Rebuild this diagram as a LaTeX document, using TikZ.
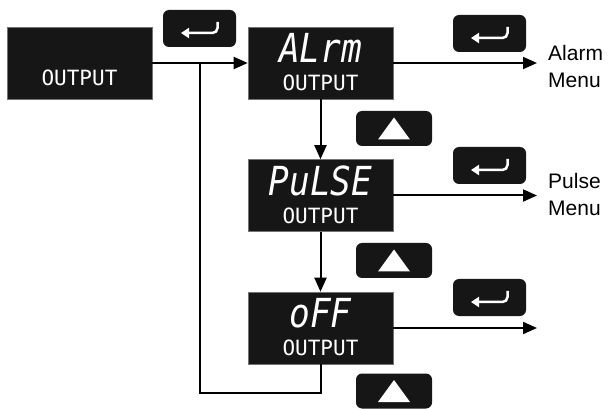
\documentclass[tikz,border=0pt]{standalone}
\usepackage{fontspec}
\setmainfont{Liberation Sans}
\newfontfamily\segfont[FakeStretch=0.86]{DejaVu Sans Mono}
\newfontfamily\segsmall{DejaVu Sans Mono}
\usetikzlibrary{positioning,arrows.meta}
\definecolor{panel}{HTML}{161616}

\begin{document}
\begin{tikzpicture}[x=1pt,y=-1pt]
\tikzstyle{display}=[fill=panel,draw=black!55,line width=0.6pt,minimum width=145pt,minimum height=72pt,inner sep=0pt]
\tikzstyle{keybox}=[fill=panel,rounded corners=6pt,minimum width=73pt,minimum height=37pt,inner sep=0pt]
\tikzstyle{upbox}=[keybox,minimum width=76pt,minimum height=35pt]
\tikzstyle{flow}=[line width=2pt,-{Triangle[length=14pt,width=12pt]}]
\tikzstyle{seg}=[text=white,inner sep=0pt,font=\segfont\itshape\fontsize{40}{40}\selectfont]
\tikzstyle{sub}=[text=white,inner sep=0pt,font=\segsmall\fontsize{21}{21}\selectfont]
\tikzstyle{menu}=[anchor=west,align=left,inner sep=0pt,font=\fontsize{21}{27}\selectfont]
    \useasboundingbox (0,0) rectangle (614,409);
    % displays
    \node[display] (out) at (79.5,63) {};
    \node[display] (alarm) at (320.5,63) {};
    \node[display] (pulse) at (320.5,195.5) {};
    \node[display] (off) at (320.5,328) {};
    \node[sub] (outtxt) at ([yshift=-15pt]out.center) {OUTPUT};
    \node[seg] (alarmtxt) at ([yshift=15.5pt]alarm.center) {ALrm};
    \node[sub] (alarmsub) at ([yshift=-20pt]alarm.center) {OUTPUT};
    \node[seg] (pulsetxt) at ([yshift=15pt]pulse.center) {PuLSE};
    \node[sub] (pulsesub) at ([yshift=-20pt]pulse.center) {OUTPUT};
    \node[seg] (offtxt) at ([yshift=15pt]off.center) {oFF};
    \node[sub] (offsub) at ([yshift=-20pt]off.center) {OUTPUT};
    % keys
    \node[keybox] (enter0) at (199.5,28.5) {};
    \node[keybox] (enter1) at (489.5,33.5) {};
    \node[keybox] (enter2) at (489.5,165.5) {};
    \node[keybox] (enter3) at (489.5,297.5) {};
    \node[upbox] (up1) at (394,128.5) {};
    \node[upbox] (up2) at (394,260.5) {};
    \node[upbox] (up3) at (394,391) {};
    \foreach \k in {enter0,enter1,enter2,enter3}
      \draw[white,line width=2.5pt,-{Triangle[length=8pt,width=10pt]}] ([shift={(18,-6.5)}]\k.center) -- ++(0,6) arc[start angle=0,end angle=90,radius=5] -- ([shift={(-18.5,4.5)}]\k.center);
    \foreach \k in {up1,up2,up3}
      \fill[white] ([shift={(0,-11)}]\k.center) -- ([shift={(16,11)}]\k.center) -- ([shift={(-16,11)}]\k.center) -- cycle;
    % connectors
    \coordinate (split) at (200,63);
    \coordinate (alarmEnd) at (537,63);
    \coordinate (pulseEnd) at (537,195.5);
    \coordinate (offEnd) at (537,328);
    \draw[flow] (out) -- (alarm);
    \draw[flow] (alarm) -- (pulse);
    \draw[flow] (pulse) -- (off);
    \draw[flow] (alarm) -- (alarmEnd);
    \draw[flow] (pulse) -- (pulseEnd);
    \draw[flow] (off) -- (offEnd);
    \draw[line width=2pt] (off.south) -- ++(0,29) -| (split);
    \node[menu] (alarmMenu) at ([xshift=11pt,yshift=-3pt]alarmEnd) {Alarm\\Menu};
    \node[menu] (pulseMenu) at ([xshift=11pt,yshift=1pt]pulseEnd) {Pulse\\Menu};
  \end{tikzpicture}
\end{document}
